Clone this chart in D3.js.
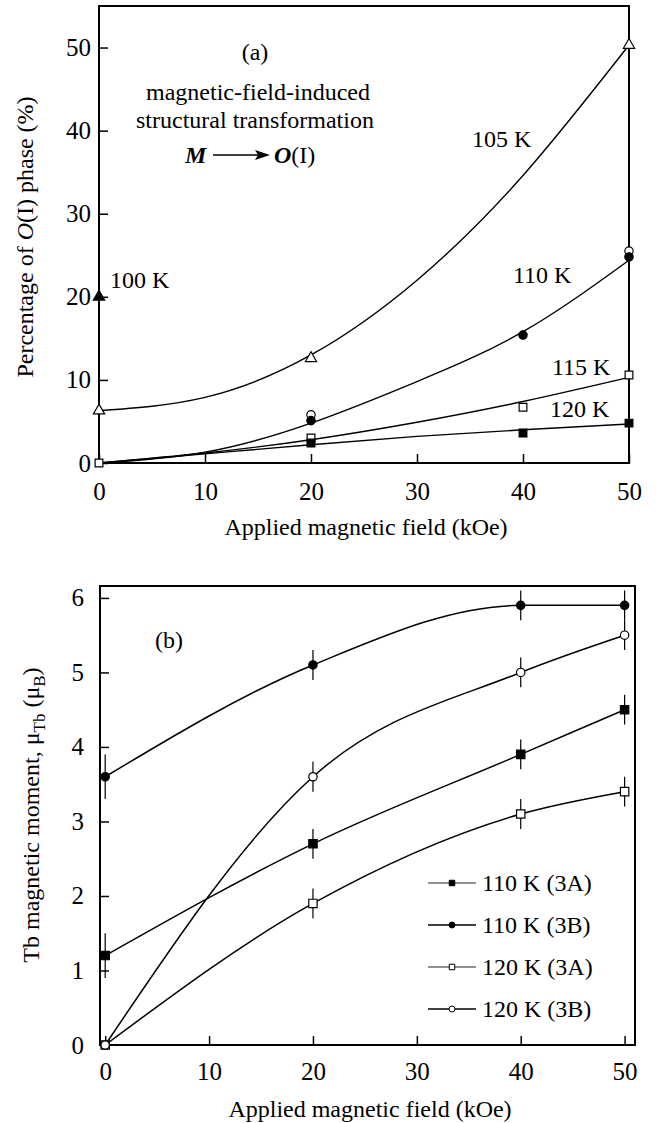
<!DOCTYPE html>
<html>
<head>
<meta charset="utf-8">
<script src="https://cdn.jsdelivr.net/npm/d3@7"></script>
<style>
  body { margin: 0; background: #fff; }
  svg text { font-family: "Liberation Serif", "Times New Roman", serif; fill: #000; }
</style>
</head>
<body>
<svg id="chart" width="659" height="1123"></svg>
<script>
// ticks
const xTicks = [0, 10, 20, 30, 40, 50];
const yTicksA = [0, 10, 20, 30, 40, 50];
const yTicksB = [0, 1, 2, 3, 4, 5, 6];

// panel (a): measured points, [field, percent]
const tri100 = [[0, 20]];
const tri105 = [[0, 6.3], [20, 12.6], [50, 50.3]];
const circ110 = [[20, 5.1], [40, 15.4], [50, 24.8]];
const circ110open = [[20, 5.8], [50, 25.5]];
const sq115 = [[0, 0], [20, 3.0], [40, 6.7], [50, 10.6]];
const sq120 = [[20, 2.4], [40, 3.6], [50, 4.8]];

// panel (a): fitted curves
const fitField = [0, 10, 20, 30, 40, 50];
const fit105 = [6.3, 7.9, 13.0, 22.0, 34.6, 50.3];
const fit110 = [0, 1.3, 4.8, 9.8, 15.8, 24.4];
const fit115 = [0, 1.2, 2.8, 4.9, 7.4, 10.3];
const fit120 = [0, 1.1, 2.2, 3.2, 4.0, 4.7];

// panel (b): moments with error bars
const fieldB = [0, 20, 40, 50];
const m110A = [1.2, 2.7, 3.9, 4.5];
const e110A = [0.3, 0.2, 0.2, 0.2];
const m110B = [3.6, 5.1, 5.9, 5.9];
const e110B = [0.3, 0.2, 0.2, 0.2];
const m120A = [0, 1.9, 3.1, 3.4];
const e120A = [0, 0.2, 0.2, 0.2];
const m120B = [0, 3.6, 5.0, 5.5];
const e120B = [0, 0.2, 0.2, 0.2];

const legendLabels = ["110 K (3A)", "110 K (3B)", "120 K (3A)", "120 K (3B)"];

const svg = d3.select("#chart");

function marker(g, shape, filled, pts, x, y, size) {
    const sym = shape === "tri" ? d3.symbolTriangle : shape === "sq" ? d3.symbolSquare : d3.symbolCircle;
    g.selectAll(null)
        .data(pts)
        .enter().append("path")
        .attr("d", d3.symbol().type(sym).size(size))
        .attr("transform", d => `translate(${x(d[0])},${y(d[1])})`)
        .attr("fill", filled ? "#000" : "#fff")
        .attr("stroke", "#000")
        .attr("stroke-width", 1.2);
}

function drawAxes(g, x, y, yTicks, yPad, xPad) {
    const ya = g.append("g")
        .attr("transform", `translate(${x.range()[0]},0)`)
        .call(d3.axisLeft(y).tickValues(yTicks).tickFormat(d3.format("d"))
            .tickSizeInner(-9).tickSizeOuter(0).tickPadding(yPad));
    const xa = g.append("g")
        .attr("transform", `translate(0,${y(0)})`)
        .call(d3.axisBottom(x).tickValues(xTicks).tickFormat(d3.format("d"))
            .tickSizeInner(-9).tickSizeOuter(0).tickPadding(xPad));
    [ya, xa].forEach(a => {
        a.select(".domain").remove();
        a.selectAll(".tick line").attr("stroke-width", 1.5);
        a.selectAll("text").attr("font-family", null).attr("font-size", 25);
    });
    // frame
    g.append("rect")
        .attr("x", x.range()[0])
        .attr("y", y.range()[1])
        .attr("width", x.range()[1] - x.range()[0])
        .attr("height", y(0) - y.range()[1])
        .attr("fill", "none")
        .attr("stroke", "#000")
        .attr("stroke-width", 2);
}

// ---------- panel (a) ----------
const xA = d3.scaleLinear().domain([0, 50]).range([99, 629]);
const yA = d3.scaleLinear().domain([0, 55]).range([463, 6]);
const gA = svg.append("g");

const lineA = d3.line()
    .x((d, i) => xA(fitField[i]))
    .y(d => yA(d))
    .curve(d3.curveNatural);

[fit105, fit110, fit115, fit120].forEach(f => {
    gA.append("path")
        .attr("d", lineA(f))
        .attr("fill", "none")
        .attr("stroke", "#000")
        .attr("stroke-width", 1.4);
});

drawAxes(gA, xA, yA, yTicksA, 8, 19);

marker(gA, "tri", true, tri100, xA, yA, 55);
marker(gA, "tri", false, tri105, xA, yA, 55);
marker(gA, "circle", false, circ110open, xA, yA, 55);
marker(gA, "circle", true, circ110, xA, yA, 55);
marker(gA, "sq", false, sq115, xA, yA, 60);
marker(gA, "sq", true, sq120, xA, yA, 60);

const tempLabels = [
    {t: "100 K", x: 110, y: 288},
    {t: "105 K", x: 472, y: 147},
    {t: "110 K", x: 513, y: 283},
    {t: "115 K", x: 552, y: 375},
    {t: "120 K", x: 550, y: 417}
];
gA.selectAll(null)
    .data(tempLabels)
    .enter().append("text")
    .attr("x", d => d.x)
    .attr("y", d => d.y)
    .attr("font-size", 24)
    .text(d => d.t);

gA.append("text").attr("x", 255).attr("y", 60).attr("text-anchor", "middle").attr("font-size", 24).text("(a)");
gA.append("text").attr("x", 258).attr("y", 100).attr("text-anchor", "middle").attr("font-size", 24).text("magnetic-field-induced");
gA.append("text").attr("x", 255).attr("y", 128).attr("text-anchor", "middle").attr("font-size", 24).text("structural transformation");
gA.append("text").attr("x", 185).attr("y", 163).attr("font-size", 24)
    .attr("font-style", "italic").attr("font-weight", "bold").text("M");
gA.append("line").attr("x1", 213).attr("x2", 262).attr("y1", 155).attr("y2", 155)
    .attr("stroke", "#000").attr("stroke-width", 1.3);
gA.append("path").attr("d", "M255,150 L270,155 L255,160 L258,155 Z").attr("fill", "#000");
const oi = gA.append("text").attr("x", 274).attr("y", 163).attr("font-size", 24);
oi.append("tspan").attr("font-style", "italic").attr("font-weight", "bold").text("O");
oi.append("tspan").text("(I)");

gA.append("text")
    .attr("text-anchor", "middle")
    .attr("font-size", 24)
    .attr("x", 366).attr("y", 535)
    .text("Applied magnetic field (kOe)");

const ytA = gA.append("text")
    .attr("text-anchor", "middle")
    .attr("font-size", 24)
    .attr("transform", "translate(33,237) rotate(-90)");
ytA.append("tspan").text("Percentage of ");
ytA.append("tspan").attr("font-style", "italic").text("O");
ytA.append("tspan").text("(I) phase (%)");

// ---------- panel (b) ----------
const xB = d3.scaleLinear().domain([-0.5, 51]).range([100, 635]);
const yB = d3.scaleLinear().domain([0, 6.16]).range([1045, 586]);
const gB = svg.append("g");

const seriesB = [
    {vals: m110A, err: e110A, shape: "sq", filled: true},
    {vals: m110B, err: e110B, shape: "circle", filled: true},
    {vals: m120A, err: e120A, shape: "sq", filled: false},
    {vals: m120B, err: e120B, shape: "circle", filled: false}
];

const lineB = d3.line()
    .x((d, i) => xB(fieldB[i]))
    .y(d => yB(d))
    .curve(d3.curveMonotoneX);

seriesB.forEach(s => {
    gB.append("path")
        .attr("d", lineB(s.vals))
        .attr("fill", "none")
        .attr("stroke", "#000")
        .attr("stroke-width", 1.5);
    gB.selectAll(null)
        .data(s.vals.map((v, i) => [fieldB[i], v, s.err[i]]).filter(d => d[2] > 0))
        .enter().append("line")
        .attr("x1", d => xB(d[0])).attr("x2", d => xB(d[0]))
        .attr("y1", d => yB(d[1] - d[2])).attr("y2", d => yB(d[1] + d[2]))
        .attr("stroke", "#000")
        .attr("stroke-width", 1.2);
});

drawAxes(gB, xB, yB, yTicksB, 16, 17);

seriesB.forEach(s => {
    const pts = s.vals.map((v, i) => [fieldB[i], v]);
    marker(gB, s.shape, s.filled, pts, xB, yB, s.shape === "sq" ? 70 : 55);
});

// legend
const leg = gB.append("g");
seriesB.forEach((s, i) => {
    const ly = 883 + i * 42;
    leg.append("line").attr("x1", 428).attr("x2", 476).attr("y1", ly).attr("y2", ly)
        .attr("stroke", i % 2 === 0 ? "#222" : "#000").attr("stroke-width", i % 2 === 0 ? 1.1 : 1.5);
    const sym = s.shape === "sq" ? d3.symbolSquare : d3.symbolCircle;
    leg.append("path")
        .attr("d", d3.symbol().type(sym).size(s.shape === "sq" ? 30 : 28))
        .attr("transform", `translate(452,${ly})`)
        .attr("fill", s.filled ? "#000" : "#fff")
        .attr("stroke", "#000")
        .attr("stroke-width", 1);
    leg.append("text")
        .attr("x", 482).attr("y", ly + 8)
        .attr("font-size", 24)
        .text(legendLabels[i]);
});

gB.append("text").attr("x", 155).attr("y", 648).attr("font-size", 24).text("(b)");

gB.append("text")
    .attr("text-anchor", "middle")
    .attr("font-size", 24)
    .attr("x", 370).attr("y", 1117)
    .text("Applied magnetic field (kOe)");

const ytB = gB.append("text")
    .attr("text-anchor", "middle")
    .attr("font-size", 24)
    .attr("transform", "translate(39,815) rotate(-90)");
ytB.append("tspan").text("Tb magnetic moment, \u03bc");
ytB.append("tspan").attr("font-size", 17).attr("dy", 6).text("Tb");
ytB.append("tspan").attr("dy", -6).text(" (\u03bc");
ytB.append("tspan").attr("font-size", 17).attr("dy", 6).text("B");
ytB.append("tspan").attr("dy", -6).text(")");
</script>
</body>
</html>
